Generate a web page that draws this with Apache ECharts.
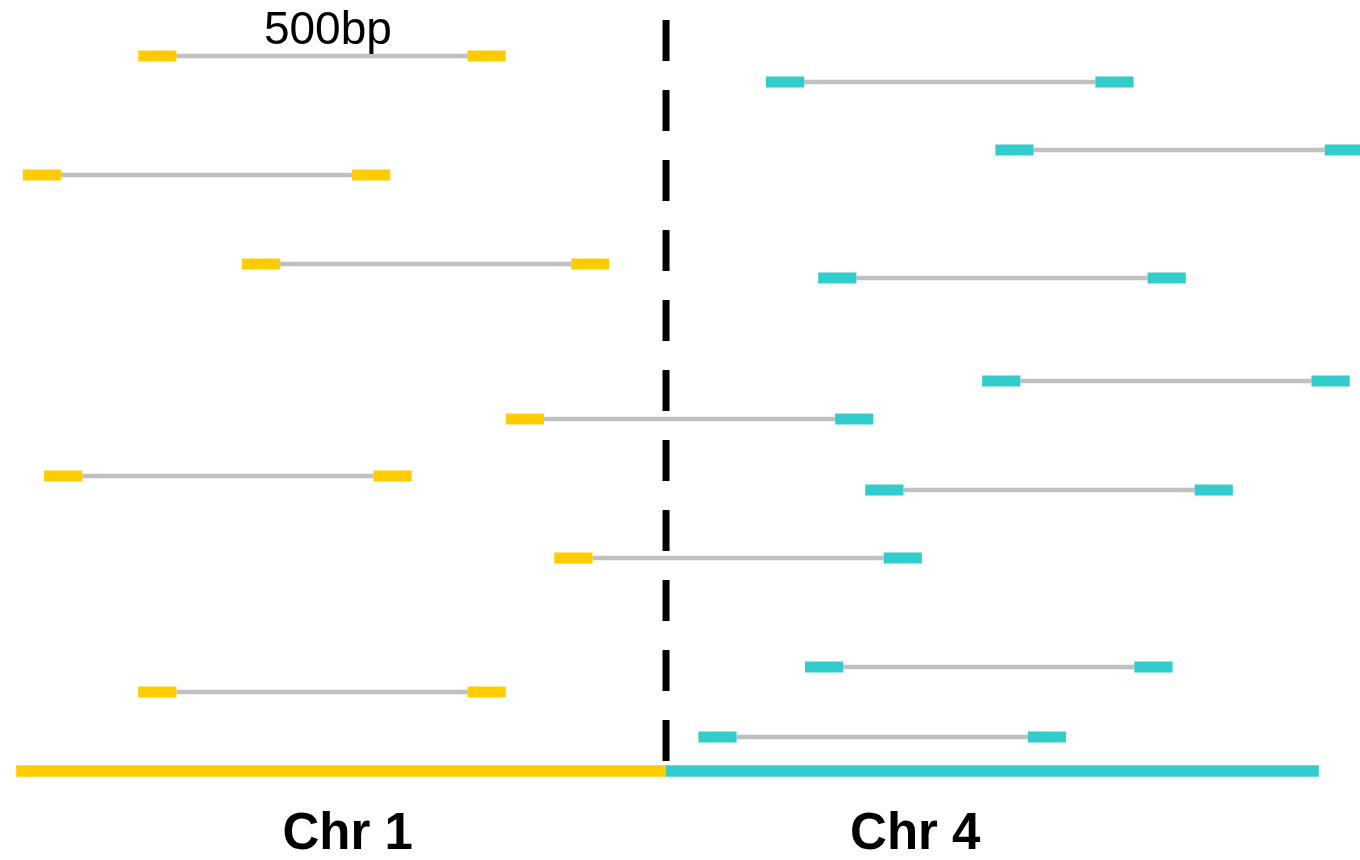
<!DOCTYPE html>
<html>
<head>
<meta charset="utf-8">
<script src="https://cdn.jsdelivr.net/npm/echarts@6/dist/echarts.min.js"></script>
<style>
html,body{margin:0;padding:0;background:#fff;}
#chart{width:1360px;height:860px;}
</style>
</head>
<body>
<div id="chart"></div>
<script>
// ---- data ----
const READ_LEN = 52;        // bp, length of each read
const PAIR_SPAN = 500;      // bp, outer span of a read pair
const BREAKPOINT = 906;     // bp, junction between Chr 1 and Chr 4
const chromNames = ['Chr 1', 'Chr 4'];
const chromStarts = [22, 906];
const chromEnds = [906, 1794];
const chromColors = ['#FFCC00', '#33CCCC'];
// read pairs: start position (bp), track row, chrom index of left read / right read
const pairStarts = [188, 31, 329, 688, 60, 754, 188, 1042, 1354, 1113, 1336, 1177, 1095, 950];
const pairRows   = [56, 175, 264, 419, 476, 558, 692, 82, 150, 278, 381, 490, 667, 737];
const leftChrom  = [0, 0, 0, 0, 0, 0, 0, 1, 1, 1, 1, 1, 1, 1];
const rightChrom = [0, 0, 0, 1, 0, 1, 0, 1, 1, 1, 1, 1, 1, 1];
const chromRow = 771;
const chromLabelX = [473, 1245];
const chromLabelRow = 835;
const scaleLabel = '500bp';
const scaleLabelX = 446;
const scaleLabelRow = 31;
const dashTop = 20, dashBottom = 762;

const pairData = pairStarts.map((s, i) => [s, pairRows[i], leftChrom[i], rightChrom[i]]);
const chromData = chromNames.map((n, i) => [chromStarts[i], chromEnds[i], chromRow, i]);

const chart = echarts.init(document.getElementById('chart'));
const FONT = '"Liberation Sans", Arial, Helvetica, sans-serif';

chart.setOption({
  animation: false,
  backgroundColor: '#ffffff',
  grid: {left: 0, right: 0, top: 0, bottom: 0},
  xAxis: {type: 'value', min: 0, max: 1850, show: false},
  yAxis: {type: 'value', min: 0, max: 860, inverse: true, show: false},
  series: [
    {
      type: 'custom',
      clip: false,
      data: pairData,
      renderItem: function (params, api) {
        const s = api.value(0), y = api.value(1);
        const lc = chromColors[api.value(2)], rc = chromColors[api.value(3)];
        const p0 = api.coord([s, y]);
        const p1 = api.coord([s + READ_LEN, y]);
        const p2 = api.coord([s + PAIR_SPAN - READ_LEN, y]);
        const p3 = api.coord([s + PAIR_SPAN, y]);
        const h = 11;
        return {
          type: 'group',
          children: [
            {type: 'line', shape: {x1: p1[0], y1: p0[1], x2: p2[0], y2: p0[1]},
             style: {stroke: '#C0C0C0', lineWidth: 4.5}},
            {type: 'rect', shape: {x: p0[0], y: p0[1] - h / 2, width: p1[0] - p0[0], height: h},
             style: {fill: lc}},
            {type: 'rect', shape: {x: p2[0], y: p0[1] - h / 2, width: p3[0] - p2[0], height: h},
             style: {fill: rc}}
          ]
        };
      }
    },
    {
      type: 'custom',
      clip: false,
      data: chromData,
      renderItem: function (params, api) {
        const a = api.coord([api.value(0), api.value(2)]);
        const b = api.coord([api.value(1), api.value(2)]);
        const h = 11.5;
        return {type: 'rect', shape: {x: a[0], y: a[1] - h / 2, width: b[0] - a[0], height: h},
                style: {fill: chromColors[api.value(3)]}};
      }
    },
    {
      type: 'line',
      data: [[BREAKPOINT, dashTop], [BREAKPOINT, dashBottom]],
      symbol: 'none',
      z: 5,
      lineStyle: {color: '#000000', width: 7, type: [41, 29], cap: 'butt'}
    },
    {
      type: 'scatter',
      symbolSize: 0,
      itemStyle: {opacity: 1},
      data: chromNames.map((n, i) => ({name: n, value: [chromLabelX[i], chromLabelRow]})),
      label: {show: true, position: 'inside', formatter: '{b}', color: '#000000', opacity: 1,
              textBorderWidth: 0, fontFamily: FONT, fontWeight: 'bold', fontSize: 51}
    },
    {
      type: 'scatter',
      symbolSize: 0,
      itemStyle: {opacity: 1},
      data: [{name: scaleLabel, value: [scaleLabelX, scaleLabelRow]}],
      label: {show: true, position: 'inside', formatter: '{b}', color: '#000000', opacity: 1,
              textBorderWidth: 0, fontFamily: FONT, fontWeight: 'normal', fontSize: 46}
    }
  ]
});
</script>
</body>
</html>
